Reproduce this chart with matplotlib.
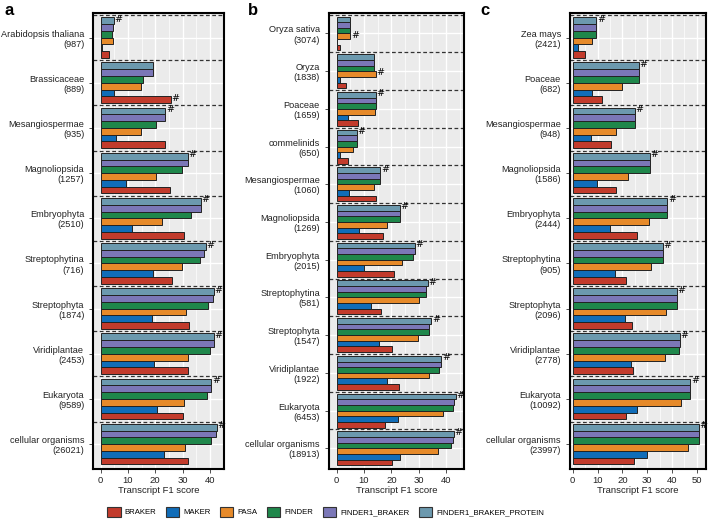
import numpy as np
import matplotlib.pyplot as plt
from matplotlib.patches import Patch
from matplotlib import font_manager

methods = ['BRAKER', 'MAKER', 'PASA', 'FINDER', 'FINDER1_BRAKER', 'FINDER1_BRAKER_PROTEIN']
colors = ['#C23B2C', '#116DB8', '#E68A2A', '#1F874B', '#7B77B7', '#6C99AE']

# panel a
a_names = ['Arabidopsis thaliana', 'Brassicaceae', 'Mesangiospermae', 'Magnoliopsida', 'Embryophyta',
           'Streptophytina', 'Streptophyta', 'Viridiplantae', 'Eukaryota', 'cellular organisms']
a_counts = [987, 889, 935, 1257, 2510, 716, 1874, 2453, 9589, 26021]
a_braker = [3.2, 25.6, 23.7, 25.3, 30.4, 26.1, 32.5, 32.0, 30.2, 32.0]
a_maker = [0.4, 4.8, 5.7, 9.1, 11.6, 19.1, 18.7, 19.4, 20.6, 23.3]
a_pasa = [4.5, 14.6, 14.6, 20.4, 22.4, 29.8, 31.4, 32.0, 30.4, 30.9]
a_finder = [4.0, 15.4, 20.1, 29.7, 33.0, 36.4, 39.4, 39.9, 38.9, 40.5]
a_fb = [4.6, 19.3, 23.7, 31.9, 36.7, 38.0, 41.2, 41.5, 40.5, 42.4]
a_fbp = [4.7, 19.3, 23.7, 31.9, 36.8, 38.6, 41.4, 41.6, 40.6, 42.5]

# panel b
b_names = ['Oryza sativa', 'Oryza', 'Poaceae', 'commelinids', 'Mesangiospermae', 'Magnoliopsida',
           'Embryophyta', 'Streptophytina', 'Streptophyta', 'Viridiplantae', 'Eukaryota', 'cellular organisms']
b_counts = [3074, 1838, 1659, 650, 1060, 1269, 2015, 581, 1547, 1922, 6453, 18913]
b_braker = [1.2, 3.6, 7.9, 4.0, 14.5, 17.1, 20.9, 16.3, 20.3, 22.8, 17.7, 20.1]
b_maker = [0.1, 1.4, 4.3, 1.4, 4.4, 8.0, 10.1, 12.5, 15.5, 18.4, 22.3, 23.1]
b_pasa = [5.0, 14.3, 14.1, 5.8, 13.6, 18.6, 23.8, 30.3, 29.9, 33.9, 38.9, 37.0]
b_finder = [4.7, 13.5, 14.3, 7.4, 15.7, 23.1, 28.1, 32.6, 33.9, 37.5, 42.6, 41.9]
b_fb = [4.7, 13.5, 14.3, 7.4, 15.9, 23.1, 28.5, 32.8, 33.9, 38.0, 42.9, 42.5]
b_fbp = [4.7, 13.5, 14.4, 7.4, 16.0, 23.1, 28.6, 33.3, 34.6, 38.3, 43.5, 43.0]

# panel c
c_names = ['Zea mays', 'Poaceae', 'Mesangiospermae', 'Magnoliopsida', 'Embryophyta',
           'Streptophytina', 'Streptophyta', 'Viridiplantae', 'Eukaryota', 'cellular organisms']
c_counts = [2421, 682, 948, 1586, 2444, 905, 2096, 2778, 10092, 23997]
c_braker = [5.1, 11.9, 15.3, 17.3, 25.9, 21.4, 23.9, 24.3, 21.4, 24.6]
c_maker = [2.2, 7.6, 7.3, 9.6, 14.9, 16.9, 20.9, 23.4, 25.8, 29.9]
c_pasa = [7.6, 19.7, 17.3, 22.2, 30.7, 31.4, 37.4, 37.2, 43.8, 46.5]
c_finder = [9.5, 26.6, 24.9, 31.1, 38.1, 36.4, 42.0, 42.8, 47.4, 50.9]
c_fb = [9.5, 26.6, 24.9, 31.1, 38.1, 36.4, 42.0, 43.1, 47.4, 50.8]
c_fbp = [9.5, 26.6, 24.9, 31.1, 38.1, 36.4, 42.0, 43.1, 47.4, 50.9]

panels = [
    ('a', a_names, a_counts, [a_braker, a_maker, a_pasa, a_finder, a_fb, a_fbp],
     [0.1318, 0.1067, 0.1846, 0.869], (-2.7, 45.2), [0, 10, 20, 30, 40]),
    ('b', b_names, b_counts, [b_braker, b_maker, b_pasa, b_finder, b_fb, b_fbp],
     [0.4647, 0.1067, 0.1907, 0.869], (-2.8, 46.6), [0, 10, 20, 30, 40]),
    ('c', c_names, c_counts, [c_braker, c_maker, c_pasa, c_finder, c_fb, c_fbp],
     [0.8051, 0.1067, 0.1914, 0.869], (-1.1, 53.5), [0, 10, 20, 30, 40, 50]),
]

# narrow sans if available
names_avail = {f.name for f in font_manager.fontManager.ttflist}
fam = 'Liberation Sans Narrow' if 'Liberation Sans Narrow' in names_avail else 'Liberation Sans'
plt.rcParams['font.family'] = [fam, 'DejaVu Sans']
fs = 7.5 if fam == 'Liberation Sans Narrow' else 6.8

fig = plt.figure(figsize=(7.08, 5.25), dpi=100)

bw = 0.15
for letter, names, counts, series, pos, xlim, xt in panels:
    ax = fig.add_axes(pos)
    ax.set_facecolor('#EBEBEB')
    n = len(names)
    y = np.arange(n)
    vals = np.array(series)  # shape (6, n)
    for k in range(6):
        # BRAKER at the bottom of each group, FBP at the top
        off = (2.5 - k) * bw
        ax.barh(y + off, vals[k], height=bw, color=colors[k], edgecolor='#222222',
                linewidth=0.7, zorder=3)
    # mark best method per category
    for i in range(n):
        col = vals[::-1, i]
        k = 5 - int(np.argmax(col))
        off = (2.5 - k) * bw
        ax.text(vals[k, i] + 0.2, y[i] + off - 0.03, '#', fontsize=6.8, va='center',
                ha='left', zorder=4, family='DejaVu Sans')
    # separators
    for b in np.arange(n) - 0.5:
        ax.axhline(b, color='#333333', linestyle=(0, (3, 2)), linewidth=0.9, zorder=2)
    ax.set_xlim(*xlim)
    ax.set_ylim(n - 0.45, -0.55)
    ax.set_xticks(xt)
    ax.set_xticks(np.arange(5, xlim[1], 10), minor=True)
    ax.grid(True, which='major', axis='x', color='white', linewidth=1.0, zorder=1)
    ax.grid(True, which='minor', axis='x', color='white', linewidth=0.5, zorder=1)
    ax.grid(True, which='major', axis='y', color='white', linewidth=1.0, zorder=1)
    ax.set_yticks(y)
    ax.set_yticklabels([f'{nm}\n({c})' for nm, c in zip(names, counts)], fontsize=fs - 0.2,
                       ha='right', multialignment='right', linespacing=1.15)
    ax.tick_params(axis='both', which='major', length=3, width=0.6, color='#333333',
                   labelcolor='#222222')
    ax.tick_params(axis='x', labelsize=fs, pad=2)
    ax.tick_params(axis='x', which='minor', length=0)
    for s in ax.spines.values():
        s.set_linewidth(1.5)
        s.set_color('black')
    ax.set_xlabel('Transcript F1 score', fontsize=fs, labelpad=1, color='#222222')
    dx = {'a': 0.125, 'b': 0.115, 'c': 0.127}[letter]
    fig.text(pos[0] - dx, 0.995, letter, fontsize=12, fontweight='bold', va='top',
             ha='left', family='Liberation Sans')

handles = [Patch(facecolor=c, edgecolor='#333333', linewidth=0.8, label=m)
           for m, c in zip(methods, colors)]
fig.legend(handles=handles, loc='center', bbox_to_anchor=(0.46, 0.025), ncol=6,
           frameon=False, fontsize=fs - 1.2, handlelength=1.7, handleheight=1.7,
           columnspacing=1.2, handletextpad=0.55)

fig.savefig('out.png', dpi=100)
